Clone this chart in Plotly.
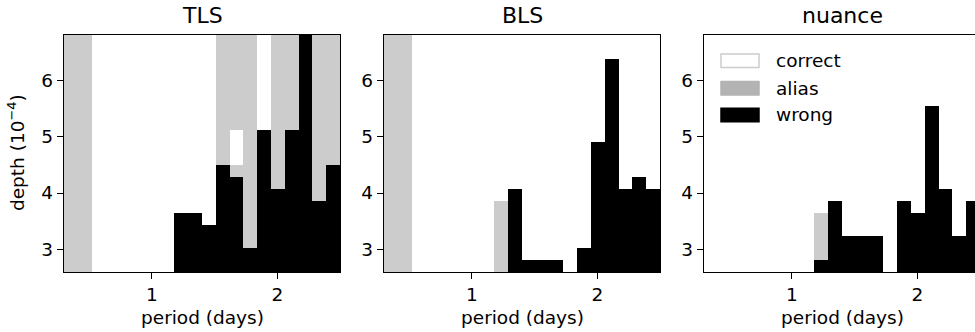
import plotly.graph_objects as go

# Period bins (days) and transit-depth bins (1e-4) of the injection grid
period_edges = [0.30, 0.41, 0.52, 0.63, 0.74, 0.85, 0.96, 1.07, 1.18, 1.29, 1.40,
                1.51, 1.62, 1.73, 1.84, 1.95, 2.06, 2.17, 2.28, 2.39, 2.50]
depth_edges = [2.60, 2.81, 3.02, 3.23, 3.44, 3.65, 3.86, 4.07, 4.28, 4.49, 4.70,
               4.91, 5.12, 5.33, 5.54, 5.75, 5.96, 6.17, 6.38, 6.59, 6.80]

outcome_labels = ["correct", "alias", "wrong"]
outcome_colors = ["#ffffff", "#cccccc", "#000000"]
legend_colors = ["#ffffff", "#b3b3b3", "#000000"]

# Each period column: (outcome, upper depth) segments from the bottom up
C = [("correct", 6.80)]
A = [("alias", 6.80)]

tls_columns = [
    A, A, C, C, C, C, C, C,
    [("wrong", 3.65), ("correct", 6.80)],
    [("wrong", 3.65), ("correct", 6.80)],
    [("wrong", 3.44), ("correct", 6.80)],
    [("wrong", 4.49), ("alias", 6.80)],
    [("wrong", 4.28), ("alias", 4.49), ("correct", 5.12), ("alias", 6.80)],
    [("wrong", 3.02), ("alias", 6.80)],
    [("wrong", 5.12), ("correct", 6.80)],
    [("wrong", 4.07), ("alias", 6.80)],
    [("wrong", 5.12), ("alias", 6.80)],
    [("wrong", 6.80)],
    [("wrong", 3.86), ("alias", 6.80)],
    [("wrong", 4.49), ("alias", 6.80)],
]

bls_columns = [
    A, A, C, C, C, C, C, C,
    [("alias", 3.86), ("correct", 6.80)],
    [("wrong", 4.07), ("correct", 6.80)],
    [("wrong", 2.81), ("correct", 6.80)],
    [("wrong", 2.81), ("correct", 6.80)],
    [("wrong", 2.81), ("correct", 6.80)],
    C,
    [("wrong", 3.02), ("correct", 6.80)],
    [("wrong", 4.91), ("correct", 6.80)],
    [("wrong", 6.38), ("correct", 6.80)],
    [("wrong", 4.07), ("correct", 6.80)],
    [("wrong", 4.28), ("correct", 6.80)],
    [("wrong", 4.07), ("correct", 6.80)],
]

nuance_columns = [
    C, C, C, C, C, C, C, C,
    [("wrong", 2.81), ("alias", 3.65), ("correct", 6.80)],
    [("wrong", 3.86), ("correct", 6.80)],
    [("wrong", 3.23), ("correct", 6.80)],
    [("wrong", 3.23), ("correct", 6.80)],
    [("wrong", 3.23), ("correct", 6.80)],
    C,
    [("wrong", 3.86), ("correct", 6.80)],
    [("wrong", 3.65), ("correct", 6.80)],
    [("wrong", 5.54), ("correct", 6.80)],
    [("wrong", 4.07), ("correct", 6.80)],
    [("wrong", 3.23), ("correct", 6.80)],
    [("wrong", 3.86), ("correct", 6.80)],
]

methods = ["TLS", "BLS", "nuance"]
columns_by_method = [tls_columns, bls_columns, nuance_columns]


def outcome_grid(columns):
    """Rasterise the per-column segments onto the depth bins."""
    grid = []
    for i in range(len(depth_edges) - 1):
        mid = 0.5 * (depth_edges[i] + depth_edges[i + 1])
        row = []
        for segs in columns:
            label = next(lab for lab, top in segs if mid < top)
            row.append(outcome_labels.index(label))
        grid.append(row)
    return grid


W, H = 975, 332
panel_left = [64, 384, 704]
panel_right = [340, 660, 975]
panel_top, panel_bottom = 35, 272
x_ranges = [[0.30, 2.50], [0.30, 2.50], [0.30, 2.46]]

FONT = "DejaVu Sans"
LABEL_SIZE = 18.5
TITLE_SIZE = 22
colorscale = [[0.0, outcome_colors[0]], [0.5, outcome_colors[1]], [1.0, outcome_colors[2]]]

fig = go.Figure()
axis_common = dict(
    showline=True, linecolor="black", linewidth=1.3,
    ticks="outside", ticklen=6, tickwidth=1.3, tickcolor="black",
    showgrid=False, zeroline=False,
    tickfont=dict(family=FONT, size=LABEL_SIZE, color="black"),
)

layout_axes = {}
annotations = []
for k, (name, cols) in enumerate(zip(methods, columns_by_method)):
    sfx = "" if k == 0 else str(k + 1)
    fig.add_trace(go.Heatmap(
        x=period_edges, y=depth_edges, z=outcome_grid(cols),
        zmin=0, zmax=2, colorscale=colorscale, showscale=False,
        xaxis="x" + sfx, yaxis="y" + sfx, hoverinfo="skip",
    ))
    layout_axes["xaxis" + sfx] = dict(
        axis_common,
        domain=[panel_left[k] / W, panel_right[k] / W],
        range=x_ranges[k], tickvals=[1, 2], ticktext=["1", "2"],
        mirror=True, anchor="y" + sfx,
    )
    layout_axes["yaxis" + sfx] = dict(
        axis_common,
        domain=[1 - panel_bottom / H, 1 - panel_top / H],
        range=[depth_edges[0], depth_edges[-1]], tickvals=[3, 4, 5, 6],
        mirror=(k < 2), anchor="x" + sfx,
    )
    cx = (panel_left[k] + 138) / W
    annotations.append(dict(
        text=name, x=cx, y=1 - 15 / H, xref="paper", yref="paper",
        xanchor="center", yanchor="middle", showarrow=False,
        font=dict(family=FONT, size=TITLE_SIZE, color="black"),
    ))
    annotations.append(dict(
        text="period (days)", x=cx, y=1 - 317 / H, xref="paper", yref="paper",
        xanchor="center", yanchor="middle", showarrow=False,
        font=dict(family=FONT, size=LABEL_SIZE, color="black"),
    ))

annotations.append(dict(
    text="depth (10<sup>−4</sup>)", x=16 / W, y=1 - 153 / H, xref="paper", yref="paper",
    xanchor="center", yanchor="middle", textangle=-90, showarrow=False,
    font=dict(family=FONT, size=LABEL_SIZE, color="black"),
))

# Legend for the outcome classes, drawn inside the nuance panel
shapes = []
legend_rows = [60.7, 88.3, 115]
for lab, col, yc in zip(outcome_labels, legend_colors, legend_rows):
    shapes.append(dict(
        type="rect", xref="paper", yref="paper",
        x0=721 / W, x1=759 / W, y0=1 - (yc + 6.8) / H, y1=1 - (yc - 6.8) / H,
        fillcolor=col,
        line=dict(color="#cccccc" if lab == "correct" else col, width=1.5),
    ))
    annotations.append(dict(
        text=lab, x=774 / W, y=1 - yc / H, xref="paper", yref="paper",
        xanchor="left", yanchor="middle", showarrow=False,
        font=dict(family=FONT, size=LABEL_SIZE, color="black"),
    ))

fig.update_layout(
    width=W, height=H, margin=dict(l=0, r=0, t=0, b=0),
    paper_bgcolor="white", plot_bgcolor="white",
    showlegend=False, annotations=annotations, shapes=shapes,
    font=dict(family=FONT, color="black"),
    **layout_axes,
)

fig.write_html("out.html")
